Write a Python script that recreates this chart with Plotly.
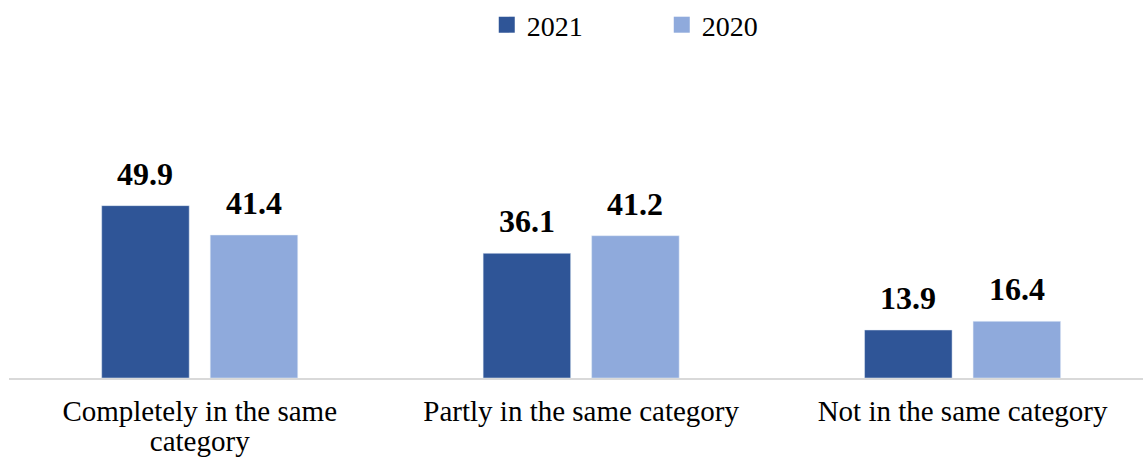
import plotly.graph_objects as go

categories = ["Completely in the same<br>category", "Partly in the same category", "Not in the same category"]
values_2021 = [49.9, 36.1, 13.9]
values_2020 = [41.4, 41.2, 16.4]

DARK = "#2F5597"
LIGHT = "#8FAADC"
FONT = "Liberation Serif"
BARGAP = 0.431
BARGROUPGAP = 0.1935


def tick_text(label, size=29):
    # each line wrapped so the text is larger than the line pitch
    return "<br>".join(f"<span style='font-size:{size}px'>{part}</span>" for part in label.split("<br>"))


fig = go.Figure()

series = [("2021", values_2021, DARK), ("2020", values_2020, LIGHT)]
for name, vals, color in series:
    fig.add_trace(go.Bar(
        x=list(range(len(categories))), y=vals, name=name, marker_color=color,
        showlegend=False, hoverinfo="y",
    ))

# legend entries with larger square swatches
for name, _, color in series:
    fig.add_trace(go.Scatter(
        x=[None], y=[None], mode="markers", name=name,
        marker=dict(symbol="square", size=16, color=color),
    ))

# value labels above each bar
offset = (1 - BARGAP) / 4
for k, (name, vals, _) in enumerate(series):
    shift = -offset if k == 0 else offset
    for i, v in enumerate(vals):
        fig.add_annotation(
            x=i + shift, y=v, xref="x", yref="y",
            text=f"<b>{v:.1f}</b>", showarrow=False,
            yanchor="bottom", yshift=12,
            font=dict(family=FONT, size=32, color="black"),
        )

fig.update_layout(
    width=1143, height=461,
    margin=dict(l=9, r=0, t=70, b=83),
    paper_bgcolor="white", plot_bgcolor="white",
    barmode="group", bargap=BARGAP, bargroupgap=BARGROUPGAP,
    font=dict(family=FONT, size=26, color="black"),
    legend=dict(
        orientation="h", x=0.4213, xanchor="left", y=1.1585, yanchor="middle",
        font=dict(family=FONT, size=28, color="black"),
        entrywidth=130, entrywidthmode="pixels",
    ),
    xaxis=dict(
        range=[-0.5, 2.473],
        tickmode="array", tickvals=list(range(len(categories))),
        ticktext=[tick_text(c) for c in categories],
        ticklabelstandoff=14,
        showline=True, linecolor="#D9D9D9", linewidth=1.5,
        ticks="", tickfont=dict(family=FONT, size=22.7, color="black"),
        showgrid=False, zeroline=False,
    ),
    yaxis=dict(
        range=[0, 88.3], visible=False, showgrid=False, zeroline=False,
    ),
)

fig.write_html("out.html")
